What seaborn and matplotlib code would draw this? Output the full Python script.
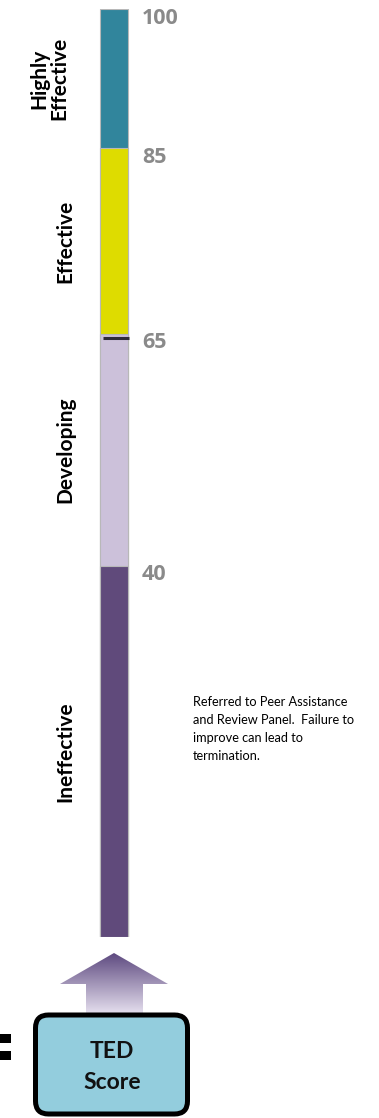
import numpy as np
import pandas as pd
import matplotlib
matplotlib.use("Agg")
import matplotlib.pyplot as plt
from matplotlib.patches import Polygon, FancyBboxPatch
import seaborn as sns

# ---- data ----
band_names = ["Highly Effective", "Effective", "Developing", "Ineffective"]
band_lower = [85, 65, 40, 0]
band_upper = [100, 85, 65, 40]
band_colors = ["#31859C", "#DEDC00", "#CCC1DA", "#604A7B"]
band_label_text = ["Highly\nEffective", "Effective", "Developing", "Ineffective"]
boundary_values = [100, 85, 65, 40]
boundary_labels = ["100", "85", "65", "40"]
cut_marker = 64.6
note_text = ("Referred to Peer Assistance\nand Review Panel.  Failure to\n"
             "improve can lead to\ntermination.")

sns.set_theme(style="white")
plt.rcParams["font.family"] = ["Lato", "DejaVu Sans"]

W, H = 379, 1118
fig = plt.figure(figsize=(W / 100, H / 100), dpi=100)
fig.patch.set_facecolor("white")

# main scale axes (pixel layout of the bar: top y=9 -> 100, bottom y=937 -> 0)
bar_top, bar_bot = 9, 937
bar_cx, bar_w = 114, 28
ax = fig.add_axes([0, (H - bar_bot) / H, 1, (bar_bot - bar_top) / H])

df = pd.DataFrame({"scale": ["TED"] * len(band_names),
                   "band": band_names,
                   "upper": band_upper})
sns.barplot(data=df, x="scale", y="upper", hue="band", hue_order=band_names,
            palette=dict(zip(band_names, band_colors)), dodge=False,
            width=1.0, edgecolor="#b8b8b8", linewidth=0.8, legend=False,
            saturation=1, ax=ax)
ax.set_xlim(-bar_cx / bar_w, (W - bar_cx) / bar_w)
ax.set_ylim(0, 100)
ax.axis("off")

# boundary number labels
for v, lab in zip(boundary_values, boundary_labels):
    ax.annotate(lab, xy=(0.5, v), xytext=(10, 1), textcoords="offset points",
                ha="left", va="top", fontsize=15.5, fontweight="bold",
                family=["Open Sans", "DejaVu Sans"], color="#8a8a8a")

# rotated band names
label_x = [-2.32, -1.75, -1.75, -1.75]
for lab, lo, hi, lx in zip(band_label_text, band_lower, band_upper, label_x):
    ax.text(lx, (lo + hi) / 2, lab, rotation=90, ha="center", va="center",
            multialignment="center", fontsize=15, fontweight="bold",
            color="black", linespacing=1.0)

# cut marker line
ax.hlines(cut_marker, -0.4, 0.55, color="#2e2a3a", lw=2.2)

# note
ax.text((193 - bar_cx) / bar_w, 22.4, note_text, ha="left", va="center",
        fontsize=9.2, color="black", linespacing=1.6)

# ---- decoration overlay in pixel coordinates ----
ov = fig.add_axes([0, 0, 1, 1], zorder=3)
ov.set_xlim(0, W)
ov.set_ylim(H, 0)
ov.axis("off")
ov.patch.set_alpha(0)

# gradient arrow
arrow_pts = [(114, 953), (168, 984), (143, 984), (143, 1014), (86, 1014),
             (86, 984), (60, 984)]
poly = Polygon(arrow_pts, closed=True, facecolor="none", edgecolor="none")
ov.add_patch(poly)
c_top = np.array(matplotlib.colors.to_rgb("#5e4a80"))
c_bot = np.array(matplotlib.colors.to_rgb("#e6e0ef"))
t = np.linspace(0, 1, 200)[:, None]
grad = (c_top[None, :] * (1 - t) + c_bot[None, :] * t)[:, None, :]
im = ov.imshow(grad, extent=[60, 168, 1014, 953], aspect="auto",
               interpolation="bilinear", zorder=2)
im.set_clip_path(poly)
ov.set_xlim(0, W)
ov.set_ylim(H, 0)

# TED score box
box = FancyBboxPatch((35.5, 1015), 152, 99,
                     boxstyle="round,pad=0,rounding_size=13",
                     facecolor="#93CDDD", edgecolor="black", lw=3.6, zorder=4)
ov.add_patch(box)
ov.text(112, 1067, "TED\nScore", ha="center", va="center", fontsize=16.5,
        fontweight="bold", color="#111111", linespacing=1.55, zorder=5)

# equals sign, partly cut at the left edge
ov.text(19, 1050, "=", ha="right", va="center", fontsize=54,
        fontweight="bold", family=["DejaVu Sans"], color="black", zorder=5)

fig.savefig("out.png", dpi=100)
